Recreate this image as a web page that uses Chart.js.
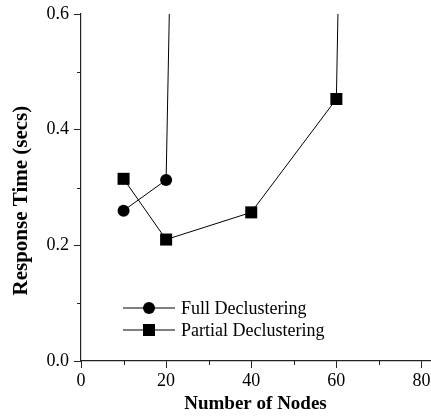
<!DOCTYPE html>
<html>
<head>
<meta charset="utf-8">
<script src="https://cdn.jsdelivr.net/npm/chart.js@4/dist/chart.umd.min.js"></script>
<style>
  html, body { margin: 0; padding: 0; background: #fff; }
  #wrap { width: 431px; height: 419px; }
</style>
</head>
<body>
<div id="wrap"><canvas id="responseChart" width="431" height="419"></canvas></div>
<script>
// values (last points lie far above the visible range)
const fullNodes = [10, 20, 40];
const fullTimes = [0.26, 0.313, 8.0];
const partialNodes = [10, 20, 40, 60, 80];
const partialTimes = [0.315, 0.21, 0.257, 0.453, 8.4];

const xMinorTicks = [10, 30, 50, 70];
const yMinorTicks = [0.1, 0.3, 0.5];
const seriesNames = ["Full Declustering", "Partial Declustering"];

const serif = "'Liberation Serif', 'Times New Roman', serif";

const toPoints = (xs, ys) => xs.map((x, i) => ({ x: x, y: ys[i] }));

// small minor tick marks + a legend drawn as line-with-marker
const extras = {
  id: "extras",
  afterDraw: c => {
    const ctx = c.ctx;
    const xs = c.scales.x;
    const ys = c.scales.y;
    const area = c.chartArea;
    ctx.save();
    ctx.strokeStyle = "#222";
    ctx.lineWidth = 1;
    ctx.beginPath();
    xMinorTicks.forEach(v => {
      const px = Math.round(xs.getPixelForValue(v)) + 0.5;
      ctx.moveTo(px, area.bottom);
      ctx.lineTo(px, area.bottom + 4);
    });
    yMinorTicks.forEach(v => {
      const py = Math.round(ys.getPixelForValue(v)) + 0.5;
      ctx.moveTo(area.left, py);
      ctx.lineTo(area.left - 4, py);
    });
    ctx.stroke();

    c.data.datasets.forEach((ds, i) => {
      const y = 308 + i * 22;
      ctx.strokeStyle = "#000";
      ctx.lineWidth = 1;
      ctx.beginPath();
      ctx.moveTo(123, y);
      ctx.lineTo(175, y);
      ctx.stroke();
      ctx.fillStyle = "#000";
      Chart.helpers.drawPoint(ctx, {
        pointStyle: ds.pointStyle,
        radius: ds.pointRadius,
        borderWidth: 0
      }, 149, y);
      ctx.font = "18px " + serif;
      ctx.textBaseline = "middle";
      ctx.textAlign = "left";
      ctx.fillText(ds.label, 181, y + 1);
    });
    ctx.restore();
  }
};

new Chart(document.getElementById("responseChart"), {
  type: "line",
  data: {
    datasets: [
      {
        label: seriesNames[0],
        data: toPoints(fullNodes, fullTimes),
        borderColor: "#000",
        backgroundColor: "#000",
        borderWidth: 1,
        pointStyle: "circle",
        pointRadius: 6,
        pointBorderWidth: 0,
        tension: 0
      },
      {
        label: seriesNames[1],
        data: toPoints(partialNodes, partialTimes),
        borderColor: "#000",
        backgroundColor: "#000",
        borderWidth: 1,
        pointStyle: "rect",
        pointRadius: 8.5,
        pointBorderWidth: 0,
        tension: 0
      }
    ]
  },
  options: {
    responsive: false,
    animation: false,
    layout: { autoPadding: false, padding: { top: 14, right: 1, bottom: 0, left: 0 } },
    plugins: {
      legend: { display: false },
      tooltip: { enabled: false }
    },
    scales: {
      x: {
        type: "linear",
        min: 0,
        max: 82,
        afterFit: s => { s.height = 58; s.paddingLeft = 0; s.paddingRight = 0; },
        border: { display: true, color: "#222", width: 1.2 },
        grid: { drawOnChartArea: false, tickLength: 7, tickColor: "#222", tickWidth: 1 },
        ticks: {
          stepSize: 20,
          includeBounds: false,
          padding: 2,
          color: "#000",
          font: { family: serif, size: 18 }
        },
        title: {
          display: true,
          text: "Number of Nodes",
          color: "#000",
          font: { family: serif, size: 19, weight: "bold" },
          padding: { top: 0, bottom: 4 }
        }
      },
      y: {
        min: 0,
        max: 0.6,
        afterFit: s => { s.width = 81; s.paddingTop = 0; s.paddingBottom = 0; },
        border: { display: true, color: "#222", width: 1.2 },
        grid: { drawOnChartArea: false, tickLength: 7, tickColor: "#222", tickWidth: 1 },
        ticks: {
          stepSize: 0.2,
          padding: 5,
          color: "#000",
          font: { family: serif, size: 18 },
          callback: v => v.toFixed(1)
        },
        title: {
          display: true,
          text: "Response Time (secs)     ",
          color: "#000",
          font: { family: serif, size: 21, weight: "bold" },
          padding: { top: 9, bottom: 0 }
        }
      }
    }
  },
  plugins: [extras]
});
</script>
</body>
</html>
